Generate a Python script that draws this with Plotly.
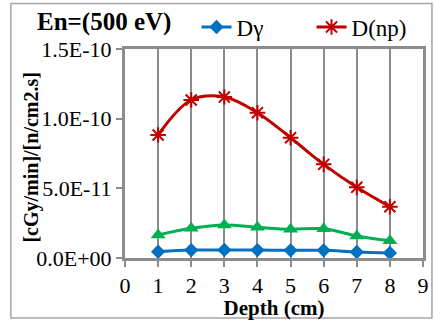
import plotly.graph_objects as go

depth = [1, 2, 3, 4, 5, 6, 7, 8]
d_gamma = [0.45e-11, 0.57e-11, 0.58e-11, 0.57e-11, 0.55e-11, 0.55e-11, 0.43e-11, 0.36e-11]
d_np = [8.83e-11, 11.34e-11, 11.55e-11, 10.43e-11, 8.63e-11, 6.72e-11, 5.07e-11, 3.68e-11]
d_third = [1.65e-11, 2.13e-11, 2.37e-11, 2.20e-11, 2.06e-11, 2.10e-11, 1.58e-11, 1.24e-11]
y_tickvals = [0, 5e-11, 1.0e-10, 1.5e-10]
y_ticktext = ["0.0E+00", "5.0E-11", "1.0E-10", "1.5E-10"]
x_ticks = list(range(0, 10))

FONT = "Liberation Serif"
GRAY = "#8c8c8c"

fig = go.Figure()
fig.add_trace(go.Scatter(x=depth, y=d_third, mode="lines+markers", name="D3",
                         line=dict(color="#00B050", width=3, shape="spline"),
                         marker=dict(symbol="triangle-up", size=13, color="#00B050"),
                         showlegend=False))
fig.add_trace(go.Scatter(x=depth, y=d_gamma, mode="lines+markers", name="Dγ",
                         line=dict(color="#0070C0", width=3, shape="spline"),
                         marker=dict(symbol="diamond", size=11, color="#0070C0")))
fig.add_trace(go.Scatter(x=depth, y=d_np, mode="lines+markers", name="D(np)",
                         line=dict(color="#C00000", width=3, shape="spline"),
                         marker=dict(symbol="asterisk-open", size=13,
                                     line=dict(color="#C00000", width=2), color="#C00000")))

fig.update_layout(
    width=434, height=320,
    margin=dict(l=125, r=11, t=49, b=62, autoexpand=False),
    paper_bgcolor="white", plot_bgcolor="white",
    font=dict(family=FONT, size=20, color="black"),
    showlegend=True,
    legend=dict(orientation="h", x=0.24, y=1.105, xanchor="left", yanchor="middle",
                font=dict(family=FONT, size=23, color="black"), bgcolor="rgba(0,0,0,0)",
                itemwidth=30, entrywidth=70, entrywidthmode="pixels"),
    xaxis=dict(range=[0, 9], tickvals=x_ticks, showgrid=True, gridcolor=GRAY, gridwidth=1.5,
               showline=True, linecolor=GRAY, linewidth=3, mirror=True,
               ticks="outside", ticklen=6, tickcolor=GRAY, tickwidth=2,
               zeroline=False, automargin=False,
               tickfont=dict(family=FONT, size=22, color="black"),
               title=dict(text="<b>Depth (cm)</b>", font=dict(family=FONT, size=21), standoff=0)),
    yaxis=dict(range=[0, 1.5e-10], tickvals=y_tickvals, ticktext=y_ticktext,
               showgrid=False, showline=True, linecolor=GRAY, linewidth=3, mirror=True,
               ticks="outside", ticklen=6, tickcolor=GRAY, tickwidth=2,
               zeroline=False, automargin=False,
               tickfont=dict(family=FONT, size=22, color="black")),
    annotations=[
        dict(text="<b>En=(500 eV)</b>", xref="paper", yref="paper",
             x=-0.303, y=1.13, xanchor="left", yanchor="middle",
             showarrow=False, font=dict(family=FONT, size=25, color="black")),
        dict(text="<b>[cGy/min]/[n/cm2.s]</b>", xref="paper", yref="paper",
             x=-0.315, y=0.481, xanchor="center", yanchor="middle", textangle=-90,
             showarrow=False, font=dict(family=FONT, size=20, color="black")),
    ],
    shapes=[dict(type="rect", xref="paper", yref="paper",
                 x0=-0.383, x1=1.030, y0=-0.287, y1=1.218,
                 line=dict(color="#a6a6a6", width=1.5))],
)
fig.write_html("out.html", post_script="document.body.style.margin='0';",
               config={"displayModeBar": False})
